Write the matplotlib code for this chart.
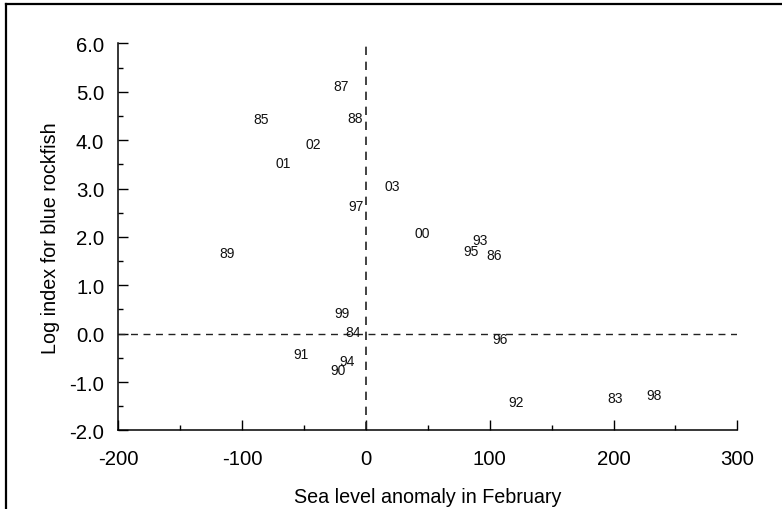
import matplotlib
matplotlib.use("Agg")
import matplotlib.pyplot as plt
from matplotlib.ticker import MultipleLocator, FuncFormatter
from matplotlib.lines import Line2D

plt.rcParams['font.family'] = ['Liberation Sans', 'DejaVu Sans']

# Year labels with sea level anomaly (x) and log index (y)
years = ['87', '85', '88', '02', '01', '03', '97', '00', '93', '95', '86',
         '89', '99', '84', '96', '91', '94', '90', '92', '83', '98']
sea_level = [-19.8, -84.4, -8.5, -42.2, -66.6, 21.6, -7.9, 45.9, 92.5, 84.7, 103.8,
             -112.1, -19.2, -10.1, 108.6, -52.3, -15.2, -22.8, 121.6, 201.5, 233.0]
log_index = [5.12, 4.43, 4.46, 3.92, 3.52, 3.06, 2.64, 2.08, 1.94, 1.70, 1.63,
             1.67, 0.42, 0.03, -0.10, -0.41, -0.57, -0.76, -1.41, -1.32, -1.26]

fig = plt.figure(figsize=(7.82, 5.10), dpi=100)
ax = fig.add_axes([0.151, 0.154, 0.792, 0.759])

for lab, x, y in zip(years, sea_level, log_index):
    ax.text(x, y, lab, ha='center', va='center', fontsize=10, color='#111111')

# reference lines through zero
ax.axvline(0, color='#222222', lw=1.2, ls=(0, (5, 4)))
ax.axhline(0, color='#222222', lw=1.0, ls=(0, (5, 4)))

ax.set_xlim(-200, 300)
ax.set_ylim(-2, 6)
ax.xaxis.set_major_locator(MultipleLocator(100))
ax.xaxis.set_minor_locator(MultipleLocator(50))
ax.yaxis.set_major_locator(MultipleLocator(1))
ax.yaxis.set_minor_locator(MultipleLocator(0.5))
ax.xaxis.set_major_formatter(FuncFormatter(lambda v, p: f"{v:.0f}"))
ax.yaxis.set_major_formatter(FuncFormatter(lambda v, p: f"{v:.1f}"))

for s in ['top', 'right']:
    ax.spines[s].set_visible(False)
for s in ['left', 'bottom']:
    ax.spines[s].set_linewidth(1.1)

ax.tick_params(which='major', direction='in', length=7, width=1.0, labelsize=14.7)
ax.tick_params(which='minor', direction='in', length=3.8, width=1.0)
ax.tick_params(axis='x', which='major', pad=13)
ax.tick_params(axis='y', which='major', pad=10)

ax.set_xlabel('Sea level anomaly in February', fontsize=14.2, labelpad=14)
ax.set_ylabel('Log index for blue rockfish', fontsize=14.2, labelpad=7)

# partial frame around the figure (top and left edges)
fig.add_artist(Line2D([6 / 782, 1.0], [1 - 5 / 510, 1 - 5 / 510],
                      transform=fig.transFigure, color='black', lw=1.6))
fig.add_artist(Line2D([6 / 782, 6 / 782], [0, 1 - 5 / 510],
                      transform=fig.transFigure, color='black', lw=1.6))

fig.savefig('out.png', dpi=100)
